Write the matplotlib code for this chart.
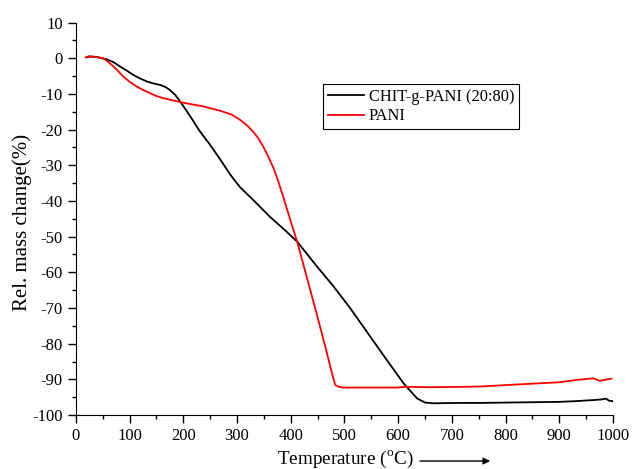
import numpy as np
import matplotlib.pyplot as plt
from matplotlib.ticker import MultipleLocator

plt.rcParams['font.family'] = ['Liberation Serif', 'DejaVu Serif']
plt.rcParams['mathtext.fontset'] = 'custom'
plt.rcParams['mathtext.rm'] = 'Liberation Serif'
plt.rcParams['axes.unicode_minus'] = False

# CHIT-g-PANI (20:80)
t_chit = [22, 26, 40, 57, 70, 82, 95, 107, 120, 132, 145, 157, 167, 175, 185, 194, 205,
          216, 230, 250, 268, 287, 296, 306, 330, 361, 390, 412, 449, 480, 511, 548, 579,
          610, 635, 650, 665, 715, 752, 800, 850, 900, 930, 963, 980, 987, 993, 1000]
m_chit = [0.3, 0.5, 0.3, -0.3, -1.1, -2.3, -3.5, -4.7, -5.7, -6.5, -7.1, -7.5, -8.1,
          -8.9, -10.3, -12.1, -14.5, -17.0, -20.3, -24.3, -28.2, -32.5, -34.3, -36.2,
          -39.7, -44.4, -48.3, -51.4, -58.4, -64, -70.1, -78, -84.6, -91.1, -95.3, -96.5,
          -96.7, -96.6, -96.6, -96.5, -96.4, -96.3, -96.1, -95.8, -95.6, -95.4, -96,
          -96.1]

# PANI
t_pani = [18, 23, 35, 51, 60, 70, 80, 88, 100, 113, 125, 138, 150, 163, 180, 194, 215,
          237, 268, 290, 306, 320, 330, 340, 349, 358, 368, 377, 386, 402, 412, 430, 449,
          467, 478, 483, 490, 498, 550, 598, 614, 660, 715, 752, 800, 850, 901, 930, 963,
          975, 985, 997]
m_pani = [0.2, 0.5, 0.4, 0, -1, -2.3, -3.8, -5.1, -6.6, -7.9, -8.9, -9.8, -10.6, -11.2,
          -11.8, -12.3, -12.9, -13.5, -14.7, -15.8, -17.3, -19, -20.6, -22.5, -24.8,
          -27.5, -30.8, -34.6, -38.8, -46.7, -51.4, -61.4, -72, -82.4, -89, -91.6,
          -92.1, -92.3, -92.3, -92.3, -92.1, -92.2, -92.1, -92, -91.6, -91.2, -90.8,
          -90.2, -89.7, -90.4, -90.1, -89.8]

fig = plt.figure(figsize=(6.32, 4.69), dpi=100)
ax = fig.add_axes([0.120, 0.115, 0.850, 0.837])

ax.plot(t_chit, m_chit, color='black', lw=1.3, label='CHIT-g-PANI (20:80)')
ax.plot(t_pani, m_pani, color='red', lw=1.3, label='PANI')

ax.set_xlim(0, 1000)
ax.set_ylim(-100, 10)
ax.xaxis.set_major_locator(MultipleLocator(100))
ax.xaxis.set_minor_locator(MultipleLocator(50))
ax.yaxis.set_major_locator(MultipleLocator(10))
ax.yaxis.set_minor_locator(MultipleLocator(5))
ax.spines['top'].set_visible(False)
ax.spines['right'].set_visible(False)
ax.tick_params(which='major', direction='out', length=6, width=1, labelsize=12)
ax.tick_params(which='minor', direction='out', length=3, width=1)

fig.text(22 / 632, 1 - 222 / 469, 'Rel. mass change(%)', fontsize=15, rotation=90,
         ha='center', va='center')

fig.text(0.546, 1 - 464 / 469, r'Temperature ($^{\mathregular{o}}$C)', fontsize=13.8,
         ha='center', va='baseline')
ax.annotate('', xy=(0.780, 0.017), xytext=(0.660, 0.017), xycoords='figure fraction',
            arrowprops=dict(arrowstyle='-|>', color='black', lw=1, mutation_scale=10))

leg = ax.legend(loc='upper left', bbox_to_anchor=(0.46, 0.843), borderaxespad=0,
                fontsize=11.8, fancybox=False, framealpha=1, edgecolor='black',
                borderpad=0.3, handlelength=2.2, labelspacing=0.2, handletextpad=0.3)
leg.get_frame().set_linewidth(0.8)

plt.savefig('out.png', dpi=100)
